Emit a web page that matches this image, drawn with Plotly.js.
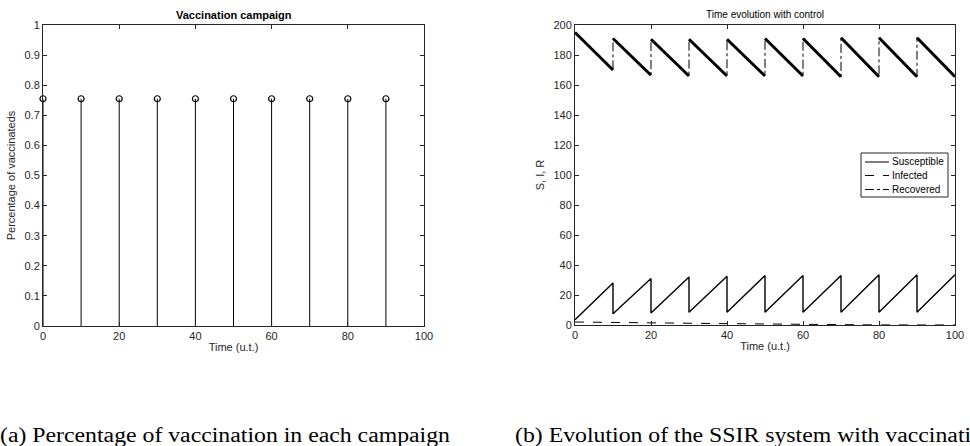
<!DOCTYPE html>
<html>
<head>
<meta charset="utf-8">
<script src="https://cdn.plot.ly/plotly-3.0.1.min.js"></script>
<style>
  html, body { margin:0; padding:0; background:#fff; overflow:hidden; }
  #wrap { position:relative; width:970px; height:446px; overflow:hidden; }
  #chart { position:absolute; left:0; top:0; width:970px; height:446px; }
  .cap { position:absolute; top:425px; font-family:"Liberation Serif","Times New Roman",serif; font-size:20px; line-height:20px; white-space:nowrap; color:#000; transform-origin:0 0; }
</style>
</head>
<body>
<div id="wrap">
  <div id="chart"></div>
  <div class="cap" id="capA" style="left:0px;">(a) Percentage of vaccination in each campaign</div>
  <div class="cap" id="capB" style="left:515px;">(b) Evolution of the SSIR system with vaccination</div>
</div>
<script>
// ---- Data: left chart (vaccination campaigns) ----
const campaignTimes = [0, 10, 20, 30, 40, 50, 60, 70, 80, 90];
const campaignPct   = [0.755, 0.755, 0.755, 0.755, 0.755, 0.755, 0.755, 0.755, 0.755, 0.755];

// ---- Data: right chart (SSIR evolution) ----
const susTimes = [0, 10, 10, 20, 20, 30, 30, 40, 40, 50, 50, 60, 60, 70, 70, 80, 80, 90, 90, 100];
const susVals  = [3.5, 28, 7.5, 31, 8, 32, 8.5, 32.5, 8.5, 33, 8.5, 33, 8.5, 33, 8.5, 33.5, 8.5, 33.5, 8.5, 33.5];

const infTimes = [0, 10, 20, 30, 40, 50, 60, 70, 80, 90, 100];
const infVals  = [2.0, 1.6, 1.3, 1.1, 0.9, 0.7, 0.4, 0.1, 0.05, 0.02, 0.01];

const recTimes = [0, 10, 10, 20, 20, 30, 30, 40, 40, 50, 50, 60, 60, 70, 70, 80, 80, 90, 90, 100];
const recVals  = [195, 170, 191, 166.5, 190.5, 166, 190.5, 166, 190.5, 166, 191, 166, 191, 165.5, 191.5, 165.5, 191.5, 165.5, 191.5, 165.5];

const seriesNames = ['Susceptible', 'Infected', 'Recovered'];
const seriesDash  = ['solid', 'dash', 'dashdot'];

const xTickVals = [0, 20, 40, 60, 80, 100];

// Build stems from the campaign data
const stemX = [], stemY = [];
campaignTimes.forEach((t, i) => { stemX.push(t, t, null); stemY.push(0, campaignPct[i], null); });

// Build thick decaying segments of Recovered (pairs between jumps)
const recSegX = [], recSegY = [];
for (let i = 0; i < recTimes.length; i += 2) {
  recSegX.push(recTimes[i], recTimes[i + 1], null);
  recSegY.push(recVals[i], recVals[i + 1], null);
}

const axCol = '#262626';
const FONT = 'Liberation Sans, Arial, sans-serif';
const tickFont = { family: FONT, size: 11, color: axCol };

const traces = [
  { x: stemX, y: stemY, xaxis: 'x', yaxis: 'y', mode: 'lines', line: { color: '#000', width: 1 }, showlegend: false, hoverinfo: 'skip' },
  { x: campaignTimes, y: campaignPct, xaxis: 'x', yaxis: 'y', mode: 'markers', cliponaxis: false,
    marker: { symbol: 'circle-open', size: 6, color: '#000', line: { width: 1.2, color: '#000' } }, showlegend: false },

  { x: susTimes, y: susVals, xaxis: 'x2', yaxis: 'y2', mode: 'lines', name: seriesNames[0], line: { color: '#000', width: 1.4, dash: seriesDash[0] } },
  { x: infTimes, y: infVals, xaxis: 'x2', yaxis: 'y2', mode: 'lines', name: seriesNames[1], line: { color: '#000', width: 1, dash: seriesDash[1] } },
  { x: recTimes, y: recVals, xaxis: 'x2', yaxis: 'y2', mode: 'lines', name: seriesNames[2], line: { color: '#000', width: 1, dash: seriesDash[2] } },
  { x: recSegX, y: recSegY, xaxis: 'x2', yaxis: 'y2', mode: 'lines', showlegend: false, line: { color: '#000', width: 3 }, connectgaps: false }
];

const W = 970, H = 446;
const px = v => v / W, py = v => 1 - v / H;

function axisCommon() {
  return {
    showline: true, linecolor: axCol, linewidth: 1, mirror: 'ticks',
    ticks: 'inside', ticklen: 4, tickwidth: 1, tickcolor: axCol,
    showgrid: false, zeroline: false, tickfont: tickFont, automargin: false
  };
}

// Manual compact MATLAB-style legend (box + samples + labels)
const legendShapes = [
  { type: 'rect', xref: 'paper', yref: 'paper', x0: px(861), x1: px(948), y0: py(197), y1: py(153),
    line: { color: axCol, width: 1 }, fillcolor: '#fff', layer: 'above' }
];
const legendAnn = [];
const legendRowY = [162, 175.5, 189.5];
seriesNames.forEach((n, i) => {
  legendShapes.push({ type: 'line', xref: 'paper', yref: 'paper', x0: px(865), x1: px(889), y0: py(legendRowY[i]), y1: py(legendRowY[i]),
    line: { color: '#000', width: 1, dash: seriesDash[i] }, layer: 'above' });
  legendAnn.push({ text: n, xref: 'paper', yref: 'paper', x: px(890), y: py(legendRowY[i]), xanchor: 'left', yanchor: 'middle',
    showarrow: false, font: { family: FONT, size: 10, color: '#000' } });
});

const layout = {
  width: W, height: H,
  margin: { l: 0, r: 0, t: 0, b: 0 },
  paper_bgcolor: '#fff', plot_bgcolor: '#fff',
  showlegend: false,
  xaxis: Object.assign(axisCommon(), {
    domain: [px(43), px(424)], anchor: 'y', range: [0, 100], tickvals: xTickVals,
    title: { text: 'Time (u.t.)', font: { family: FONT, size: 11, color: axCol }, standoff: 2 }
  }),
  yaxis: Object.assign(axisCommon(), {
    domain: [py(326), py(25)], anchor: 'x', range: [0, 1], dtick: 0.1,
    title: { text: 'Percentage of vaccinateds', font: { family: FONT, size: 11, color: axCol }, standoff: 6 }
  }),
  xaxis2: Object.assign(axisCommon(), {
    domain: [px(575), px(955)], anchor: 'y2', range: [0, 100], tickvals: xTickVals,
    title: { text: 'Time (u.t.)', font: { family: FONT, size: 11, color: axCol }, standoff: 2 }
  }),
  yaxis2: Object.assign(axisCommon(), {
    domain: [py(325), py(25)], anchor: 'x2', range: [0, 200], dtick: 20,
    title: { text: 'S, I, R', font: { family: FONT, size: 11, color: axCol }, standoff: 6 }
  }),
  shapes: legendShapes,
  annotations: [
    { text: '<b>Vaccination campaign</b>', xref: 'paper', yref: 'paper', x: px(233.5), y: py(15), xanchor: 'center', yanchor: 'middle', showarrow: false,
      font: { family: FONT, size: 11, color: '#000' } },
    { text: 'Time evolution with control', xref: 'paper', yref: 'paper', x: px(765), y: py(15), xanchor: 'center', yanchor: 'middle', showarrow: false,
      font: { family: FONT, size: 10, color: '#000' } }
  ].concat(legendAnn)
};

Plotly.newPlot('chart', traces, layout, { staticPlot: true, displayModeBar: false }).then(() => {
  const a = document.getElementById('capA');
  const b = document.getElementById('capB');
  const w = a.getBoundingClientRect().width;
  const s = 450 / w;
  a.style.transform = 'scaleX(' + s + ')';
  b.style.transform = 'scaleX(' + s + ')';
});
</script>
</body>
</html>
